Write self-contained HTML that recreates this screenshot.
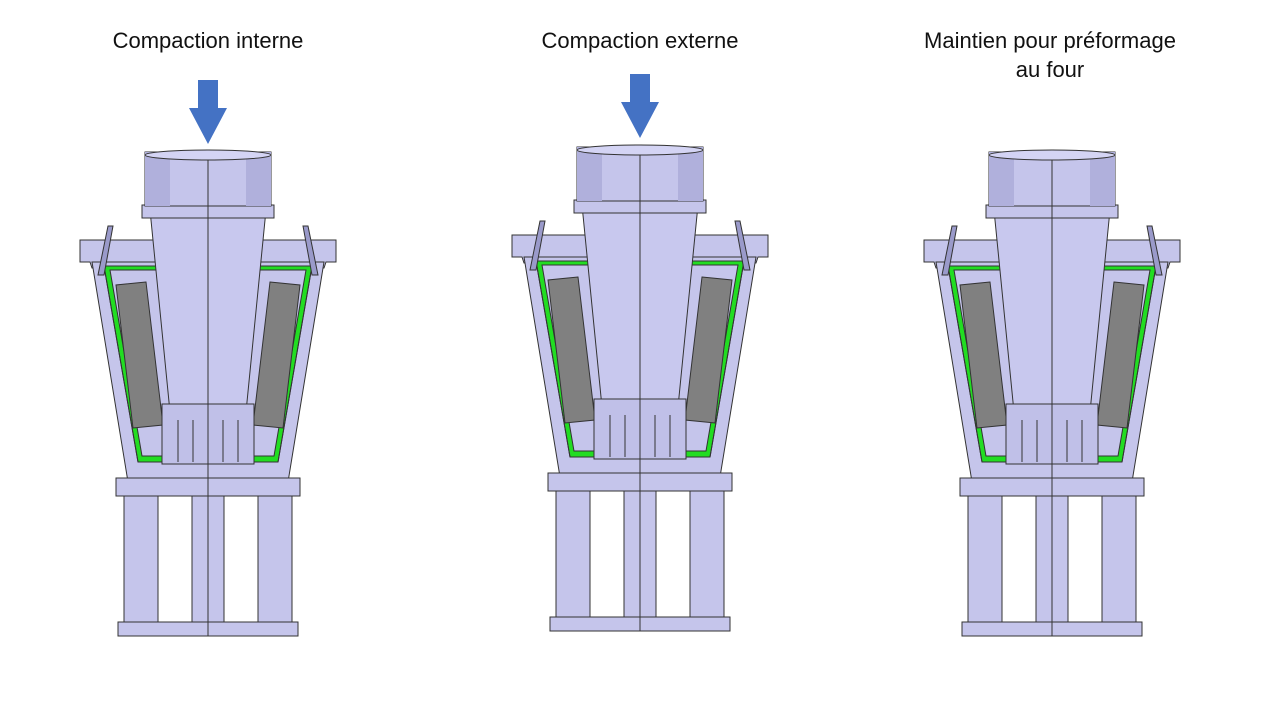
<!DOCTYPE html>
<html><head><meta charset="utf-8"><style>
html,body{margin:0;padding:0;background:#fff;width:1280px;height:720px;overflow:hidden}
.t{position:absolute;font-family:"Liberation Sans",sans-serif;font-size:22px;color:#111;text-align:center;line-height:29px}
</style></head><body>
<div class="t" style="left:55px;top:26px;width:306px">Compaction interne</div>
<div class="t" style="left:487px;top:26px;width:306px">Compaction externe</div>
<div class="t" style="left:890px;top:26px;width:320px">Maintien pour préformage<br>au four</div>
<svg width="1280" height="720" style="position:absolute;left:0;top:0">
<defs>
<g id="half" stroke="#333" stroke-width="1">
  <polygon points="0,240 128,240 128,262 118,262 116,268 0,268" fill="#c5c5eb"/>
  <polygon points="0,262 116,262 80,482 0,482" fill="#c5c5eb"/>
  <polygon points="0,266 104,266 70,462 0,462" fill="#22dd22"/>
  <polygon points="0,270 98,270 66,456 0,456" fill="#c5c5eb"/>
  <line x1="104" y1="266" x2="70" y2="462"/>
  <polygon points="62,282 92,285 75,428 45,425" fill="#808080"/>
  <polygon points="95,226 100,226 110,275 104,275" fill="#9a9aca"/>
  <polygon points="0,210 58,210 38,412 0,412" fill="#c8c8ee"/>
  <line x1="0" y1="212" x2="0" y2="410"/>
  <rect x="0" y="404" width="46" height="60" fill="#c0c0e8"/>
  <line x1="15" y1="420" x2="15" y2="462"/><line x1="30" y1="420" x2="30" y2="462"/>
  <rect x="0" y="478" width="92" height="18" fill="#c5c5eb"/>
  <rect x="50" y="496" width="34" height="130" fill="#c5c5eb"/>
  <rect x="0" y="496" width="16" height="126" fill="#c5c5eb"/>
  <polygon points="0,622 90,622 90,636 0,636" fill="#c5c5eb"/>
  <rect x="0" y="205" width="66" height="13" fill="#c5c5eb"/>
  <rect x="0" y="152" width="63" height="54" fill="#c5c5eb"/>
  <rect x="38" y="152" width="25" height="54" fill="#b0b0dc" stroke="none"/>
</g>
<g id="fig">
  <use href="#half"/>
  <use href="#half" transform="scale(-1,1)"/>
  <ellipse cx="0" cy="155" rx="63" ry="5" fill="#d4d4f4" stroke="#333"/>
</g>
<polygon id="arr" points="-10,0 10,0 10,28 19,28 0,64 -19,28 -10,28" fill="#4472c4"/>
</defs>
<use href="#fig" transform="translate(208,0)"/>
<use href="#fig" transform="translate(640,-5)"/>
<use href="#fig" transform="translate(1052,0)"/>
<use href="#arr" transform="translate(208,80)"/>
<use href="#arr" transform="translate(640,74)"/>
</svg>
</body></html>
